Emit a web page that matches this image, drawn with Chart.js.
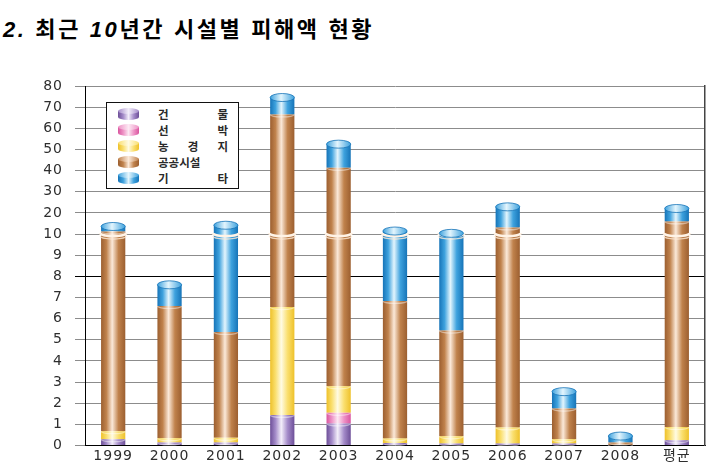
<!DOCTYPE html>
<html lang="ko">
<head>
<meta charset="UTF-8" />
<title>최근 10년간 시설별 피해액 현황</title>
<script src="https://cdn.jsdelivr.net/npm/chart.js"></script>
<style>
  body { margin: 0; width: 710px; height: 466px; position: relative; background: #fff; overflow: hidden; }
  #title { position: absolute; left: 3px; top: 11px; font: bold 22px "Noto Sans CJK KR", sans-serif; letter-spacing: 2.6px; color: #000; white-space: nowrap; }
  #title i { font-family: "Liberation Sans", Arial, sans-serif; font-weight: bold; }
  #chart { position: absolute; left: 0; top: 0; }
  #legend { position: absolute; left: 106px; top: 102px; width: 131px; height: 85px; border: 1.5px solid #111; background: #fff; }
  .row { position: absolute; left: 0; height: 16px; width: 131px; }
  .ic { position: absolute; left: 11px; top: 5px; width: 21px; height: 9px; border-radius: 0 0 10px 10px / 0 0 3px 3px; }
  .ic::before { content: ''; position: absolute; left: 0; top: -3px; width: 21px; height: 6px; border-radius: 50%; background: var(--top); }
  .lb { position: absolute; left: 51px; top: 0; width: 70px; line-height: 16px; font: bold 11.5px "Noto Sans CJK KR", sans-serif; color: #2a2a2a; text-align: justify; text-align-last: justify; }
</style>
</head>
<body>
<div id="title"><i>2.</i> 최근 <i>10</i>년간 시설별 피해액 현황</div>
<canvas id="chart" width="710" height="466"></canvas>
<div id="legend"></div>

<script>
// 데이터 (단위: 그래프 눈금값)
const years = ['1999', '2000', '2001', '2002', '2003', '2004', '2005', '2006', '2007', '2008', '평균'];
const seriesNames = ['건 물', '선 박', '농 경 지', '공공시설', '기 타'];
const building  = [0.3, 0.15, 0.15, 1.45, 1.05, 0.12, 0.1, 0.1, 0.1, 0.0, 0.25];
const ship      = [0, 0, 0, 0, 0.5, 0, 0, 0, 0, 0, 0];
const farmland  = [0.38, 0.2, 0.22, 5.1, 1.25, 0.22, 0.34, 0.76, 0.2, 0.03, 0.63];
const publicFac = [10.5, 6.25, 5.0, 60.0, 38.5, 6.5, 5.0, 12.3, 1.45, 0.12, 15.1];
const other     = [2.4, 1.0, 8.8, 8.0, 11.2, 4.6, 4.9, 9.7, 0.8, 0.3, 6.1];
const yTickLabels = ['0', '1', '2', '3', '4', '5', '6', '7', '8', '9', '10', '20', '30', '40', '50', '60', '70', '80'];

const series = [building, ship, farmland, publicFac, other];

// 색상: [가장자리, 중간, 밝은 부분]
const palette = [
  ['#6d4f98', '#a48bc9', '#f3eefa'],
  ['#d9559f', '#ee93c6', '#fde8f3'],
  ['#eec12a', '#fadf6e', '#fffbe3'],
  ['#9c5f30', '#c0824c', '#fbe9d9'],
  ['#1674b8', '#3ea2de', '#e3f5fd']
];

const BAR_PCT = 0.43;

// 10 이상은 10 단위로 압축된 눈금
const T = v => v <= 10 ? v : 10 + (v - 10) / 10;

const stacked = series.map(() => []);
years.forEach((_, i) => {
  let cum = 0;
  series.forEach((s, k) => {
    const lo = T(cum);
    cum += s[i];
    stacked[k].push(T(cum) - lo);
  });
});

function barGradient(k) {
  return function (c) {
    const chart = c.chart;
    const xs = chart.scales.x;
    if (!xs || c.dataIndex === undefined) return palette[k][1];
    const cx = xs.getPixelForValue(c.dataIndex);
    const w = xs.width / years.length * BAR_PCT;
    if (!isFinite(cx) || !isFinite(w) || w <= 0) return palette[k][1];
    const g = chart.ctx.createLinearGradient(cx - w / 2, 0, cx + w / 2, 0);
    g.addColorStop(0, palette[k][0]);
    g.addColorStop(0.22, palette[k][1]);
    g.addColorStop(0.46, palette[k][2]);
    g.addColorStop(0.72, palette[k][1]);
    g.addColorStop(1, palette[k][0]);
    return g;
  };
}

// 원기둥 뚜껑, 경계선, 10 위치의 생략 표시
const cylinderPlugin = {
  id: 'cylinder',
  afterDatasetsDraw(chart) {
    const ctx = chart.ctx;
    const y10 = chart.scales.y.getPixelForValue(10);
    years.forEach((_, i) => {
      let top = -1;
      let total = 0;
      series.forEach((s, k) => { if (s[i] > 0) top = k; total += s[i]; });
      if (top < 0) return;

      // 구간 경계
      for (let k = 0; k < top; k++) {
        if (series[k][i] <= 0) continue;
        const el = chart.getDatasetMeta(k).data[i];
        ctx.save();
        ctx.beginPath();
        ctx.ellipse(el.x, el.y, el.width / 2, 2.5, 0, 0, Math.PI);
        ctx.strokeStyle = 'rgba(255,255,255,0.45)';
        ctx.lineWidth = 1.2;
        ctx.stroke();
        ctx.restore();
      }

      const el = chart.getDatasetMeta(top).data[i];
      const rx = el.width / 2;

      if (total > 10) {
        ctx.save();
        ctx.beginPath();
        ctx.ellipse(el.x, y10 - 1, rx + 1, 3, 0, 0, Math.PI);
        ctx.strokeStyle = '#fff3e6';
        ctx.lineWidth = 2.5;
        ctx.stroke();
        ctx.beginPath();
        ctx.ellipse(el.x, y10 + 2, rx + 1, 3, 0, 0, Math.PI);
        ctx.strokeStyle = 'rgba(255,235,215,0.8)';
        ctx.lineWidth = 1.2;
        ctx.stroke();
        ctx.restore();
      }

      const p = palette[top];
      ctx.save();
      const g = ctx.createLinearGradient(el.x - rx, 0, el.x + rx, 0);
      g.addColorStop(0, p[1]);
      g.addColorStop(0.45, p[2]);
      g.addColorStop(1, p[1]);
      ctx.beginPath();
      ctx.ellipse(el.x, el.y, rx, 4, 0, 0, Math.PI * 2);
      ctx.fillStyle = g;
      ctx.fill();
      ctx.strokeStyle = p[0];
      ctx.lineWidth = 0.8;
      ctx.stroke();
      ctx.restore();
    });
  }
};

const spacingPlugin = {
  id: 'spacing',
  beforeDraw(chart) { chart.ctx.letterSpacing = '1px'; }
};

const tickFont = { family: "'DejaVu Sans', 'Noto Sans CJK KR', sans-serif", size: 14 };

new Chart(document.getElementById('chart'), {
  type: 'bar',
  data: {
    labels: years,
    datasets: series.map((s, k) => ({
      label: seriesNames[k],
      data: stacked[k],
      backgroundColor: barGradient(k),
      borderWidth: 0,
      barPercentage: BAR_PCT,
      categoryPercentage: 1
    }))
  },
  options: {
    responsive: false,
    animation: false,
    layout: { padding: { left: 0, right: 5, top: 86, bottom: 0 } },
    plugins: { legend: { display: false }, tooltip: { enabled: false } },
    scales: {
      x: {
        stacked: true,
        grid: { display: false, drawTicks: false },
        border: { display: true, color: '#000', width: 1 },
        ticks: { color: '#2e2e2e', font: tickFont, padding: 2, maxRotation: 0 },
        afterFit(scale) { scale.height = 18; }
      },
      y: {
        stacked: true,
        min: 0,
        max: 17,
        ticks: {
          stepSize: 1,
          color: '#2e2e2e',
          font: tickFont,
          padding: 12,
          callback: (v) => yTickLabels[v]
        },
        grid: {
          color: (c) => c.index === 8 ? '#000' : '#8c8c8c',
          tickLength: 10,
          lineWidth: 1
        },
        border: { display: true, color: '#000', width: 1 },
        afterFit(scale) { scale.width = 85; }
      },
      y2: {
        position: 'right',
        min: 0,
        max: 17,
        grid: { display: false },
        ticks: { display: false },
        border: { display: true, color: '#444', width: 1.5 },
        afterFit(scale) { scale.width = 0; }
      }
    }
  },
  plugins: [spacingPlugin, cylinderPlugin]
});

// 범례
const legend = document.getElementById('legend');
seriesNames.forEach((name, k) => {
  const p = palette[k];
  const row = document.createElement('div');
  row.className = 'row';
  row.style.top = (3 + k * 16) + 'px';
  const ic = document.createElement('div');
  ic.className = 'ic';
  ic.style.background = `linear-gradient(90deg, ${p[0]}, ${p[1]} 25%, ${p[2]} 50%, ${p[1]} 75%, ${p[0]})`;
  ic.style.setProperty('--top', `linear-gradient(90deg, ${p[1]}, ${p[2]} 50%, ${p[1]})`);
  const lb = document.createElement('span');
  lb.className = 'lb';
  lb.textContent = name;
  row.appendChild(ic);
  row.appendChild(lb);
  legend.appendChild(row);
});
</script>
</body>
</html>
